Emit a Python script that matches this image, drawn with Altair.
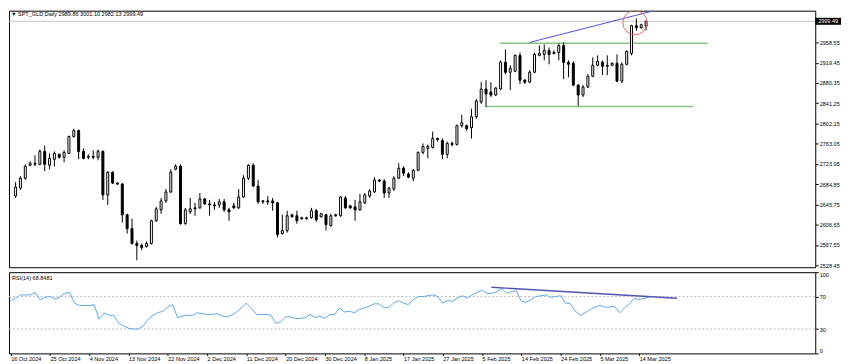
import altair as alt
import pandas as pd

# ---------------- data ----------------
opens = [2662.2, 2677.5, 2696.6, 2721.5, 2725.3, 2723.4, 2748.3, 2721.5, 2733.0, 2742.5,
         2736.8, 2744.4, 2776.9, 2788.4, 2748.3, 2736.8, 2738.7, 2736.8, 2748.3, 2664.2,
         2708.1, 2687.1, 2685.2, 2625.9, 2599.2, 2570.5, 2566.7, 2564.7, 2570.5, 2614.4,
         2635.5, 2652.7, 2669.9, 2713.9, 2719.6, 2608.7, 2631.7, 2639.3, 2639.3, 2656.5,
         2647.0, 2645.0, 2645.0, 2650.8, 2635.5, 2643.1, 2639.3, 2660.3, 2696.6, 2721.5,
         2681.4, 2652.7, 2652.7, 2652.7, 2648.9, 2589.6, 2595.3, 2625.9, 2624.0, 2620.2,
         2618.3, 2620.2, 2633.6, 2622.1, 2625.9, 2604.9, 2625.9, 2624.0, 2658.4, 2643.1,
         2641.2, 2635.5, 2648.9, 2662.2, 2669.9, 2692.8, 2690.9, 2668.0, 2675.6, 2696.6,
         2715.8, 2704.3, 2696.6, 2711.9, 2746.3, 2754.0, 2755.9, 2773.1, 2769.3, 2742.5,
         2763.6, 2761.6, 2798.0, 2798.0, 2794.1, 2815.2, 2843.8, 2868.7, 2863.0, 2857.2,
         2868.7, 2920.3, 2901.2, 2903.1, 2933.7, 2885.9, 2882.1, 2901.2, 2933.7, 2935.6,
         2943.2, 2937.5, 2939.4, 2952.8, 2920.3, 2918.4, 2876.3, 2857.2, 2872.5, 2893.5,
         2914.6, 2920.3, 2912.7, 2914.6, 2918.4, 2884.0, 2916.5, 2937.5, 2991.0, 2987.2,
         2989.86]
highs = [2689.0, 2700.5, 2723.4, 2729.1, 2740.6, 2752.1, 2759.7, 2744.4, 2748.3, 2744.4,
         2750.2, 2778.8, 2792.2, 2790.3, 2754.0, 2742.5, 2750.2, 2752.1, 2750.2, 2710.0,
         2710.0, 2689.0, 2687.1, 2627.8, 2618.3, 2576.2, 2570.5, 2574.3, 2616.4, 2641.2,
         2658.4, 2675.6, 2713.9, 2723.4, 2723.4, 2639.3, 2658.4, 2648.9, 2668.0, 2658.4,
         2654.6, 2650.8, 2656.5, 2656.5, 2639.3, 2648.9, 2675.6, 2702.4, 2723.4, 2725.3,
         2692.8, 2654.6, 2662.2, 2658.4, 2650.8, 2625.9, 2633.6, 2627.8, 2633.6, 2622.1,
         2622.1, 2639.3, 2637.4, 2629.7, 2627.8, 2627.8, 2627.8, 2662.2, 2662.2, 2645.0,
         2654.6, 2666.1, 2668.0, 2675.6, 2698.6, 2694.7, 2694.7, 2679.4, 2700.5, 2725.3,
         2719.6, 2708.1, 2713.9, 2748.3, 2763.6, 2761.6, 2786.5, 2775.0, 2773.1, 2767.4,
         2767.4, 2799.9, 2819.0, 2799.9, 2830.5, 2849.6, 2882.1, 2885.9, 2882.1, 2872.5,
         2924.1, 2945.2, 2914.6, 2935.6, 2939.4, 2887.8, 2905.0, 2939.4, 2952.8, 2954.7,
         2949.0, 2943.2, 2956.6, 2958.5, 2924.1, 2922.2, 2878.3, 2876.3, 2897.4, 2929.9,
         2933.7, 2924.1, 2933.7, 2920.3, 2935.6, 2920.3, 2943.2, 2992.9, 3005.0, 2994.9,
         3001.10]
lows = [2658.4, 2673.7, 2692.8, 2719.6, 2719.6, 2721.5, 2710.0, 2713.9, 2719.6, 2734.9,
        2727.2, 2744.4, 2775.0, 2733.0, 2733.0, 2733.0, 2733.0, 2731.1, 2654.6, 2645.0,
        2685.2, 2683.3, 2610.6, 2589.6, 2568.6, 2538.0, 2557.1, 2562.8, 2568.6, 2612.5,
        2627.8, 2648.9, 2668.0, 2711.9, 2606.8, 2606.8, 2627.8, 2624.0, 2637.4, 2645.0,
        2624.0, 2635.5, 2639.3, 2631.7, 2614.4, 2637.4, 2637.4, 2658.4, 2692.8, 2679.4,
        2647.0, 2647.0, 2645.0, 2633.6, 2582.0, 2587.7, 2591.5, 2620.2, 2608.7, 2616.4,
        2616.4, 2618.3, 2612.5, 2620.2, 2595.3, 2603.0, 2622.1, 2622.1, 2637.4, 2637.4,
        2614.4, 2633.6, 2647.0, 2658.4, 2668.0, 2689.0, 2658.4, 2658.4, 2671.8, 2694.7,
        2700.5, 2696.6, 2690.9, 2710.0, 2742.5, 2734.9, 2754.0, 2767.4, 2733.0, 2734.9,
        2757.8, 2759.7, 2794.1, 2788.4, 2773.1, 2811.3, 2840.0, 2834.3, 2853.4, 2855.3,
        2866.8, 2897.4, 2866.8, 2901.2, 2878.3, 2878.3, 2880.2, 2899.3, 2931.8, 2924.1,
        2916.5, 2935.6, 2924.1, 2887.8, 2891.6, 2874.4, 2836.2, 2853.4, 2870.6, 2891.6,
        2912.7, 2895.5, 2895.5, 2912.7, 2882.1, 2880.2, 2914.6, 2933.7, 2981.5, 2985.3,
        2982.13]
closes = [2679.4, 2696.6, 2719.6, 2725.3, 2723.4, 2748.3, 2723.4, 2734.9, 2744.4, 2736.8,
          2746.3, 2776.9, 2788.4, 2748.3, 2734.9, 2738.7, 2736.8, 2748.3, 2664.2, 2708.1,
          2687.1, 2685.2, 2625.9, 2599.2, 2570.5, 2566.7, 2562.8, 2570.5, 2614.4, 2637.4,
          2652.7, 2669.9, 2708.1, 2719.6, 2608.7, 2635.5, 2637.4, 2637.4, 2656.5, 2647.0,
          2645.0, 2643.1, 2650.8, 2635.5, 2631.7, 2639.3, 2660.3, 2696.6, 2721.5, 2681.4,
          2650.8, 2650.8, 2650.8, 2648.9, 2587.7, 2595.3, 2624.0, 2622.1, 2614.4, 2618.3,
          2620.2, 2633.6, 2616.4, 2627.8, 2606.8, 2624.0, 2624.0, 2660.3, 2639.3, 2639.3,
          2635.5, 2650.8, 2664.2, 2671.8, 2692.8, 2690.9, 2668.0, 2677.5, 2696.6, 2715.8,
          2706.2, 2698.6, 2711.9, 2746.3, 2757.8, 2757.8, 2773.1, 2771.2, 2742.5, 2763.6,
          2761.6, 2798.0, 2803.7, 2792.2, 2815.2, 2845.8, 2868.7, 2859.1, 2857.2, 2870.6,
          2920.3, 2901.2, 2908.8, 2933.7, 2885.9, 2882.1, 2901.2, 2935.6, 2937.5, 2943.2,
          2935.6, 2939.4, 2952.8, 2920.3, 2916.5, 2876.3, 2857.2, 2872.5, 2893.5, 2914.6,
          2922.2, 2912.7, 2914.6, 2918.4, 2884.0, 2916.5, 2941.3, 2991.0, 2987.2, 2992.9,
          2999.49]
rsi = [65, 68, 72, 72, 72, 75, 66, 69, 70, 67,
       69, 74, 75, 62, 59, 59, 59, 60, 42, 50,
       47, 47, 37, 34, 31, 30, 30, 34, 42, 47,
       50, 52, 57, 60, 44, 46, 47, 47, 50, 49,
       48, 48, 49, 46, 45, 47, 51, 56, 62, 56,
       48, 48, 48, 47, 37, 39, 45, 45, 43, 43,
       44, 48, 44, 46, 43, 48, 48, 56, 51, 52,
       50, 54, 56, 58, 61, 61, 56, 57, 62, 65,
       62, 60, 66, 70, 70, 71, 72, 70, 62, 65,
       64, 68, 71, 68, 72, 75, 78, 74, 74, 76,
       80, 74, 76, 77, 64, 63, 66, 70, 71, 72,
       69, 70, 71, 62, 61, 52, 47, 50, 54, 57,
       59, 57, 57, 58, 50, 56, 61, 68, 66, 68,
       68.85]

date_labels = ["16 Oct 2024", "25 Oct 2024", "4 Nov 2024", "13 Nov 2024", "22 Nov 2024",
               "2 Dec 2024", "11 Dec 2024", "20 Dec 2024", "30 Dec 2024", "8 Jan 2025",
               "17 Jan 2025", "27 Jan 2025", "5 Feb 2025", "14 Feb 2025", "24 Feb 2025",
               "5 Mar 2025", "14 Mar 2025"]
date_bars = [0, 8, 16, 24, 32, 40, 48, 56, 64, 72, 80, 88, 96, 104, 112, 120, 128]
price_ticks = [2528.45, 2567.55, 2606.65, 2645.75, 2684.85, 2723.95, 2763.05, 2802.15,
               2841.25, 2880.35, 2919.45, 2958.55]
rsi_ticks = [0, 30, 70, 100]
rsi_levels = [30, 70]

title_text = "\u25bc SPT_GLD,Daily  2989.86 3001.10 2982.13 2999.49"
rsi_text = "RSI(14) 68.8481"
bid_price = 2999.49
bid_label = "2999.49"

# annotations drawn on the chart (bar index, price)
green_x0 = [99.8, 96.8]
green_x1 = [142.7, 139.7]
green_y = [2957.2, 2834.9]
blue_x = [105.9, 131.5]
blue_y = [2958.5, 3019.7]
circle_x = [127.7]
circle_y = [2996.8]
rsi_trend_x = [97.9, 135.7]
rsi_trend_y = [81.4, 68.0]

# ---------------- chart ----------------
W, H1, H2 = 814, 259, 82
FONT = "Liberation Sans"
FS = 5.6
X_DOMAIN = [-0.34, 163.86]
Y_DOMAIN = [2524.6, 3020.0]

df = pd.DataFrame({"bar": list(range(len(opens))), "open": opens, "high": highs,
                   "low": lows, "close": closes, "rsi": rsi})

xs = alt.Scale(domain=X_DOMAIN, nice=False, zero=False)
ys = alt.Scale(domain=Y_DOMAIN, nice=False, zero=False)
rs = alt.Scale(domain=[0, 100], nice=False, zero=False)

y_axis = alt.Axis(orient="right", values=price_ticks, format=".2f", grid=False,
                  domain=False, tickSize=3, tickColor="black", labelPadding=1,
                  labelFont=FONT, labelFontSize=FS, labelColor="black", title=None,
                  labelFlush=False, labelOverlap=False)


def X(f):
    return alt.X(f, scale=xs, axis=None, title=None)


def Y(f):
    return alt.Y(f, scale=ys, axis=y_axis, title=None)


base = alt.Chart(df)

bid = alt.Chart(pd.DataFrame({"p": [bid_price]})).mark_rule(
    color="#c4c4c4", strokeWidth=1).encode(y=Y("p:Q"))

greens = alt.Chart(pd.DataFrame({"x0": green_x0, "x1": green_x1, "y": green_y})).mark_rule(
    color="#86c486", strokeWidth=1.6).encode(x=X("x0:Q"), x2="x1:Q", y=Y("y:Q"))

blue = alt.Chart(pd.DataFrame({"x0": [blue_x[0]], "x1": [blue_x[1]],
                               "y0": [blue_y[0]], "y1": [blue_y[1]]})).mark_rule(
    color="#4f4fd6", strokeWidth=1, clip=True).encode(
    x=X("x0:Q"), x2="x1:Q", y=Y("y0:Q"), y2="y1:Q")

wicks = base.mark_rule(color="black", strokeWidth=1).encode(
    x=X("bar:Q"), y=Y("low:Q"), y2="high:Q")

bodies = base.mark_bar(size=2, stroke="black", strokeWidth=1).encode(
    x=X("bar:Q"), y=Y("open:Q"), y2="close:Q",
    fill=alt.condition("datum.close >= datum.open", alt.value("white"), alt.value("black")))

circle = alt.Chart(pd.DataFrame({"x": circle_x, "y": circle_y})).mark_point(
    shape="circle", filled=False, size=600, color="#e06868", strokeWidth=1, opacity=1,
    clip=True).encode(x=X("x:Q"), y=Y("y:Q"))

tag_shape = "M-1,-0.27L1,-0.27L1,0.27L-1,0.27Z"
tag = alt.Chart(pd.DataFrame({"p": [bid_price]})).mark_point(
    shape=tag_shape, filled=True, color="black", size=676, opacity=1).encode(
    x=alt.value(W + 13), y=Y("p:Q"))
tag_text = alt.Chart(pd.DataFrame({"p": [bid_price], "t": [bid_label]})).mark_text(
    color="white", font=FONT, fontSize=FS, align="center", baseline="middle").encode(
    x=alt.value(W + 13), y=Y("p:Q"), text="t:N")

title = alt.Chart(pd.DataFrame({"t": [title_text]})).mark_text(
    font=FONT, fontSize=FS, align="left", baseline="middle", color="black").encode(
    x=alt.value(2), y=alt.value(3.5), text="t:N")

main = alt.layer(bid, greens, blue, wicks, bodies, circle, tag, tag_text, title).properties(
    width=W, height=H1)

# RSI panel
x_expr = "[" + ",".join("'%s'" % s for s in date_labels) + "][indexof([" + \
    ",".join(str(b) for b in date_bars) + "], datum.value)]"
x_axis = alt.Axis(values=date_bars, labelExpr=x_expr, labelAlign="left", tickSize=2,
                  tickColor="black", labelPadding=1, domain=False, grid=False,
                  labelFont=FONT, labelFontSize=FS, labelColor="black", title=None,
                  labelFlush=False, labelOverlap=False)
r_axis = alt.Axis(orient="right", values=rsi_ticks, grid=False, domain=False, tickSize=3,
                  tickColor="black", labelPadding=1, labelFont=FONT, labelFontSize=FS,
                  labelColor="black", title=None, labelFlush=True, labelOverlap=False)


def RX(f):
    return alt.X(f, scale=xs, axis=x_axis, title=None)


def RY(f):
    return alt.Y(f, scale=rs, axis=r_axis, title=None)


levels = alt.Chart(pd.DataFrame({"v": rsi_levels})).mark_rule(
    color="#bdbdbd", strokeWidth=1, strokeDash=[2, 2]).encode(y=RY("v:Q"))
rsi_line = base.mark_line(color="#5fa6e8", strokeWidth=1).encode(x=RX("bar:Q"), y=RY("rsi:Q"))
rsi_trend = alt.Chart(pd.DataFrame({"x0": [rsi_trend_x[0]], "x1": [rsi_trend_x[1]],
                                    "y0": [rsi_trend_y[0]], "y1": [rsi_trend_y[1]]})).mark_rule(
    color="#5252b4", strokeWidth=1.5).encode(x=RX("x0:Q"), x2="x1:Q", y=RY("y0:Q"), y2="y1:Q")
rsi_lab = alt.Chart(pd.DataFrame({"t": [rsi_text]})).mark_text(
    font=FONT, fontSize=FS, align="left", baseline="middle", color="black").encode(
    x=alt.value(3), y=alt.value(6), text="t:N")

rsi_panel = alt.layer(levels, rsi_line, rsi_trend, rsi_lab).properties(width=W, height=H2)

chart = alt.vconcat(main, rsi_panel, spacing=1).properties(
    padding={"left": 0, "top": 0, "right": 0, "bottom": 0},
    background="white",
).configure_view(stroke="black", strokeWidth=1)

chart.save("out.html", embed_options={"renderer": "svg", "actions": False})
